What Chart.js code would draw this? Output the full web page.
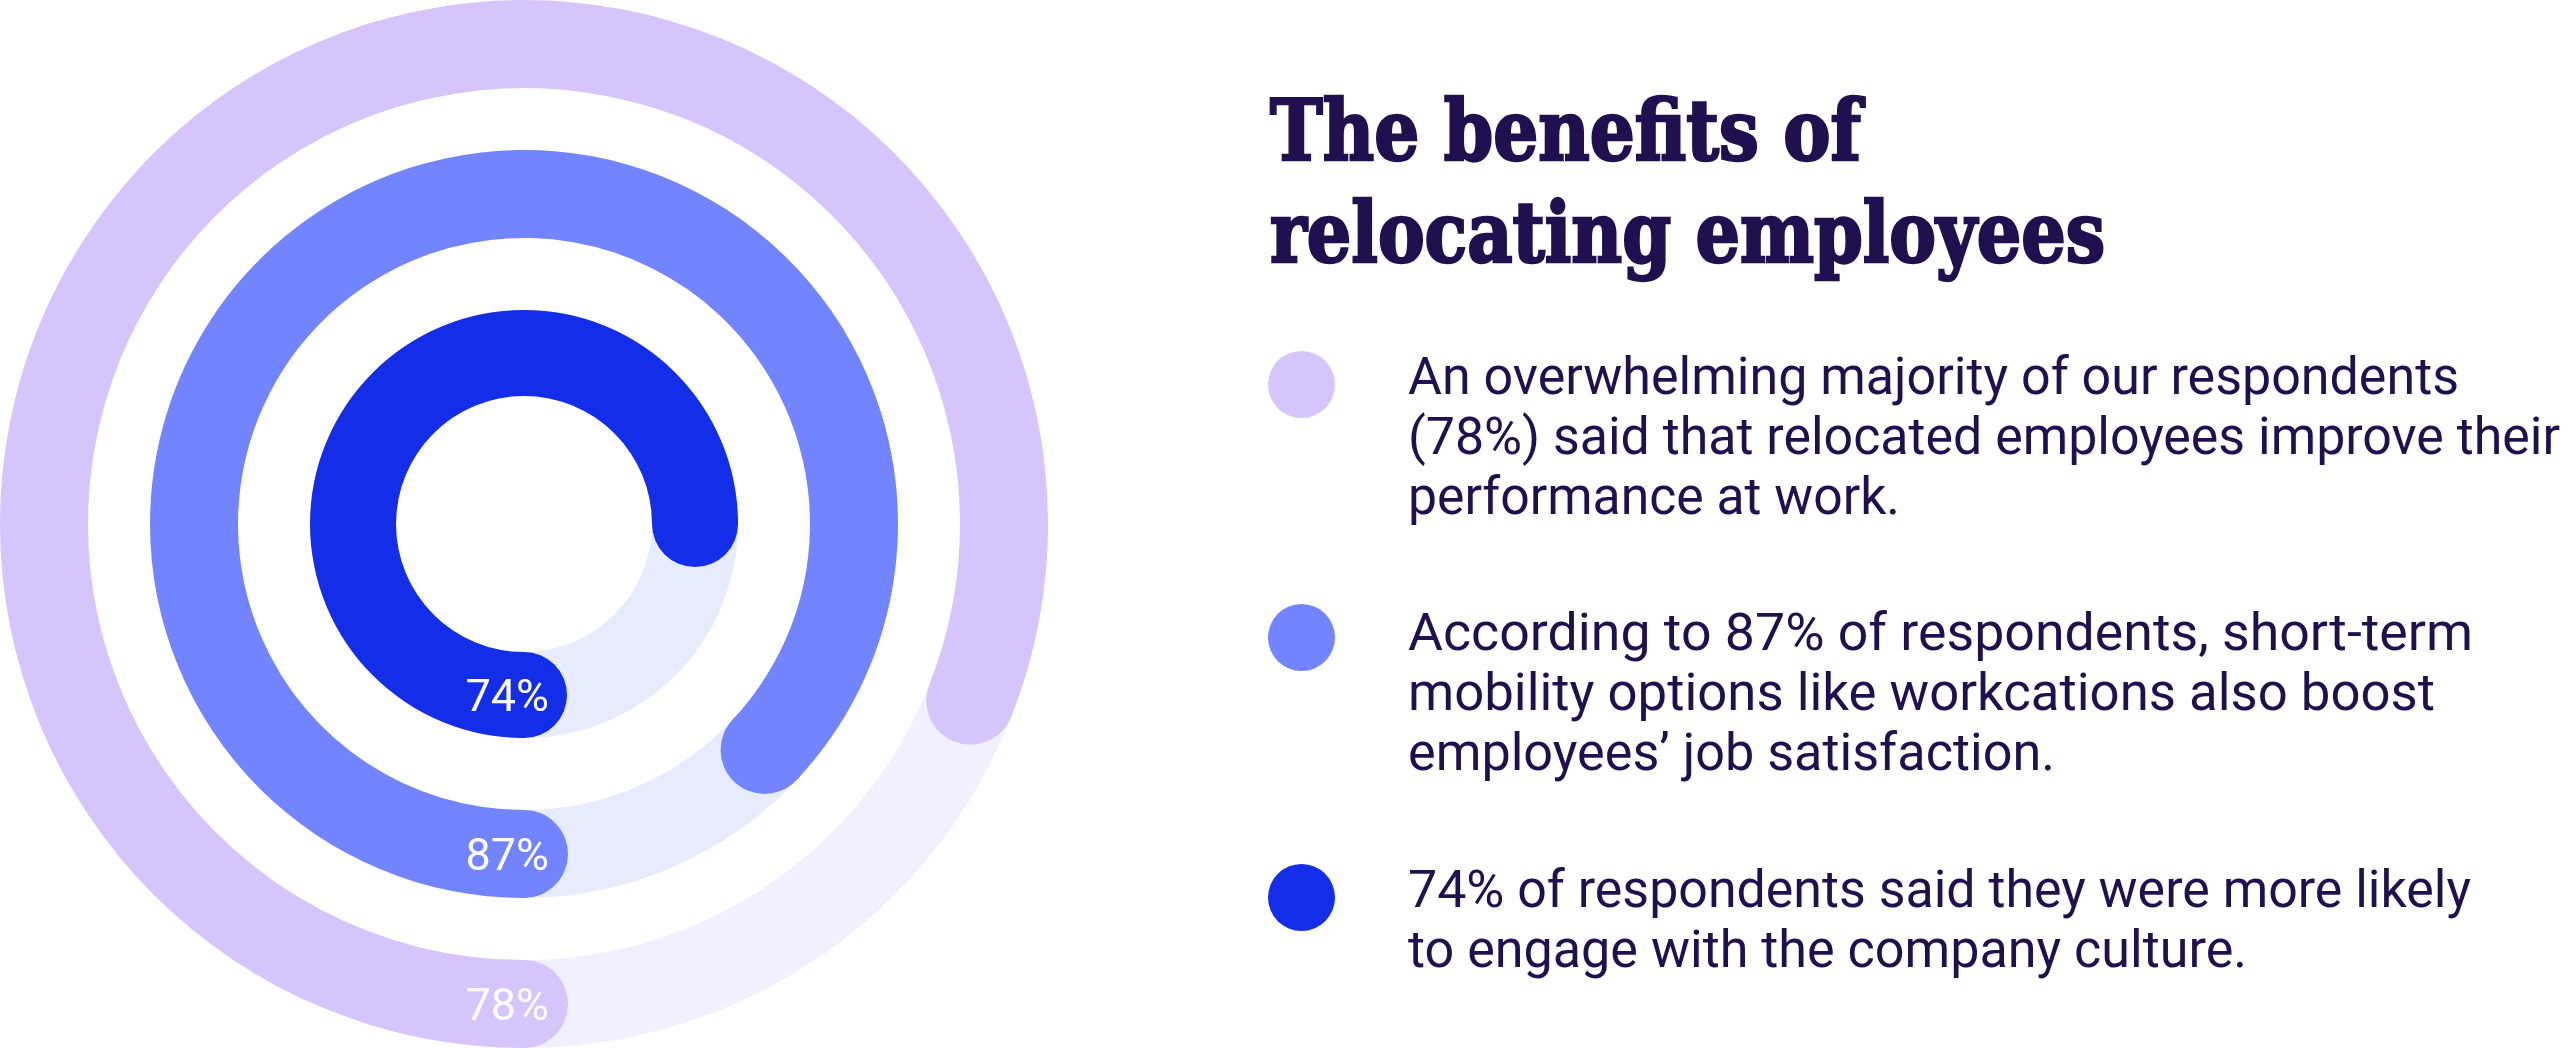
<!DOCTYPE html>
<html>
<head>
<meta charset="utf-8">
<script src="https://cdn.jsdelivr.net/npm/chart.js@4"></script>
<style>
  html, body { margin: 0; padding: 0; background: #fff; }
  body { width: 2576px; height: 1048px; position: relative; overflow: hidden; color: #21104f; }
  #rings { position: absolute; left: 0; top: 0; }
  h1 { position: absolute; left: 1270px; top: 80px; margin: 0; font: bold 84px/102px "DejaVu Serif Condensed", "DejaVu Serif", serif; color: #21104f; -webkit-text-stroke: 2.5px #21104f; }
  .fit { display: block; width: max-content; white-space: nowrap; transform-origin: 0 0; }
  .dot { position: absolute; left: 1268px; width: 67px; height: 67px; border-radius: 50%; }
  .note { position: absolute; left: 1408px; margin: 0; font: 400 51px/60px Roboto, sans-serif; }
</style>
</head>
<body>
<canvas id="rings" width="1048" height="1048"></canvas>
<h1><span class="fit" data-w="591">The benefits of</span><span class="fit" data-w="835">relocating employees</span></h1>
<div id="notes"></div>
<script>
// rings, outermost first
const ringLabels = ['78%', '87%', '74%'];
const arcShare = [81, 87, 75];        // filled part of each ring as it is drawn
const ringColors = ['#d6c4fd', '#7284ff', '#132de9'];
const trackColors = ['#f2f0fe', '#e7ebfd', '#e7ebfd'];

const noteLines = [
  ['An overwhelming majority of our respondents', '(78%) said that relocated employees improve their', 'performance at work.'],
  ['According to 87% of respondents, short-term', 'mobility options like workcations also boost', 'employees’ job satisfaction.'],
  ['74% of respondents said they were more likely', 'to engage with the company culture.']
];

// layout
const ringWeights = [88, 88, 86];
const gapWeights = [62, 72];
const noteTops = [347, 603, 860];
const dotCenters = [384, 637, 897];
const lineWidths = [[1051, 1152, 492], [1065, 1027, 647], [1063, 839]];

const datasets = [];
ringLabels.forEach((lab, i) => {
  if (i > 0) datasets.push({ data: [1], backgroundColor: ['rgba(0,0,0,0)'], weight: gapWeights[i - 1], spacer: true });
  datasets.push({
    label: lab,
    data: [arcShare[i], 100 - arcShare[i]],
    backgroundColor: [ringColors[i], trackColors[i]],
    weight: ringWeights[i]
  });
});

const roundCaps = {
  id: 'roundCaps',
  afterDatasetsDraw(chart) {
    const ctx = chart.ctx;
    chart.data.datasets.forEach((ds, di) => {
      if (ds.spacer) return;
      const arc = chart.getDatasetMeta(di).data[0];
      const p = arc.getProps(['x', 'y', 'startAngle', 'endAngle', 'innerRadius', 'outerRadius'], true);
      const mid = (p.innerRadius + p.outerRadius) / 2;
      const half = (p.outerRadius - p.innerRadius) / 2;
      ctx.save();
      ctx.fillStyle = ds.backgroundColor[0];
      [p.startAngle, p.endAngle].forEach(a => {
        ctx.beginPath();
        ctx.arc(p.x + mid * Math.cos(a), p.y + mid * Math.sin(a), half, 0, Math.PI * 2);
        ctx.fill();
      });
      const sx = p.x + mid * Math.cos(p.startAngle);
      const sy = p.y + mid * Math.sin(p.startAngle);
      ctx.fillStyle = '#fff';
      ctx.font = '400 45px Roboto, sans-serif';
      ctx.textAlign = 'right';
      ctx.textBaseline = 'alphabetic';
      ctx.fillText(ds.label, sx + 25, sy + 16);
      ctx.restore();
    });
  }
};

new Chart(document.getElementById('rings'), {
  type: 'doughnut',
  data: { labels: ['value', 'rest'], datasets },
  options: {
    responsive: false,
    devicePixelRatio: 1,
    animation: false,
    events: [],
    rotation: 180,
    cutout: 128,
    borderWidth: 0,
    layout: { padding: 0 },
    plugins: { legend: { display: false }, tooltip: { enabled: false } }
  },
  plugins: [roundCaps]
});

const notes = document.getElementById('notes');
noteLines.forEach((lines, i) => {
  const dot = document.createElement('div');
  dot.className = 'dot';
  dot.style.background = ringColors[i];
  dot.style.top = (dotCenters[i] - 33.5) + 'px';
  notes.appendChild(dot);
  const p = document.createElement('p');
  p.className = 'note';
  p.style.top = noteTops[i] + 'px';
  lines.forEach((t, j) => {
    const s = document.createElement('span');
    s.className = 'fit';
    s.dataset.w = lineWidths[i][j];
    s.textContent = t;
    p.appendChild(s);
  });
  notes.appendChild(p);
});

document.querySelectorAll('.fit').forEach(el => {
  const w = el.getBoundingClientRect().width;
  el.style.transform = 'scaleX(' + (el.dataset.w / w) + ')';
});
</script>
</body>
</html>
